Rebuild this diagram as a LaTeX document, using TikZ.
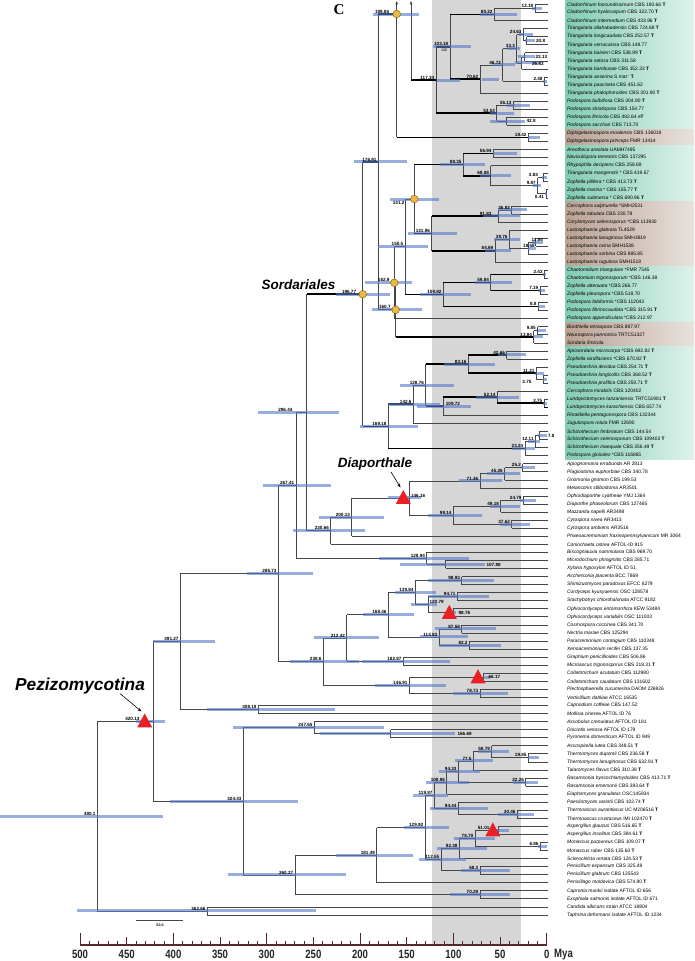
\documentclass[tikz,border=0pt]{standalone}
\usepackage{fontspec}
\setmainfont{Liberation Sans}
\newfontfamily\serifbf{Liberation Serif}
\usetikzlibrary{calc,arrows.meta}
\pgfdeclarelayer{bg}
\pgfdeclarelayer{bars}
\pgfdeclarelayer{mark}
\pgfdeclarelayer{lab}
\pgfsetlayers{bg,main,bars,mark,lab}
\definecolor{thinc}{RGB}{70,70,70}
\definecolor{hpdc}{RGB}{85,125,200}
\definecolor{bandc}{RGB}{214,214,214}
\definecolor{grnL}{RGB}{130,204,178}
\definecolor{grnR}{RGB}{222,242,235}
\definecolor{brnL}{RGB}{186,162,148}
\definecolor{brnR}{RGB}{232,225,221}
\definecolor{circf}{RGB}{236,186,62}
\definecolor{circd}{RGB}{140,100,30}
\definecolor{tric}{RGB}{235,32,36}
\definecolor{axc}{RGB}{90,40,40}
\tikzset{
 thn/.style={draw=thinc,line width=0.7pt},
 thk/.style={draw=black,line width=1.7pt},
 vln/.style={draw=thinc,line width=0.7pt},
 hpd/.style={draw=hpdc,line width=3pt,draw opacity=0.62},
 nl/.style={font=\fontsize{4.6}{5}\selectfont\bfseries,inner sep=0.4pt},
 tl/.style={font=\fontsize{4.9}{6}\selectfont,inner sep=0pt,anchor=west},
 circ/.style={fill=circf,draw=circd,line width=0.5pt},
 axl/.style={font=\fontsize{12}{14}\selectfont\bfseries,inner sep=0pt,text=black!85},
 grp/.style={font=\bfseries\itshape,inner sep=0pt},
 arr/.style={draw=black,line width=0.6pt,-{Stealth[length=4pt,width=3pt]}}
}
\newcommand\MKN[4]{\path let \p1=(#3),\p2=(#4) in ({#2pt},{0.5*(\y1+\y2)}) coordinate (#1);}
\newcommand\EDG[3][thn]{\draw[vln] (#2) -- (#2|-#3);\draw[#1] (#2|-#3) -- (#3);}
\newcommand\TN[9]{\MKN{#1}{#2}{#3}{#4}\EDG[#5]{#1}{#3}\EDG[#6]{#1}{#4}%
 \begin{pgfonlayer}{bars}\draw[hpd] let \p1=(#1) in (#7pt,\y1) -- (#8pt,\y1);\end{pgfonlayer}%
 \begin{pgfonlayer}{lab}\node[nl,anchor=south east] at ([xshift=-1.2pt,yshift=0.2pt]#1) {#9};\end{pgfonlayer}}
\newcommand\SLB[3]{\begin{pgfonlayer}{lab}\node[nl,#1] at (#2) {#3};\end{pgfonlayer}}
\newcommand\TX[3]{\node[tl] (L#1) at (567,{8.057*#1-3.557}) {\textit{#2} #3};}
\newcommand\BT{\textbf{T}}
\newcommand\BX[4]{\shade[left color=#3,right color=#4] (565,{8.057*#1-7.587}) rectangle (694,{8.057*#2+0.473});}
\newcommand\TRI[2]{\fill[tric] ($(#1)+(#2-7.5,6)$) -- ($(#1)+(#2+7.5,6)$) -- ($(#1)+(#2,-8)$) -- cycle;}
\begin{document}
\begin{tikzpicture}[x=1pt,y=-1pt]
\useasboundingbox (0,0) rectangle (694,961);
\begin{pgfonlayer}{bg}
\fill[white] (0,0) rectangle (694,961);
\fill[bandc] (431.7,0) rectangle (520.7,945);
\BX{1}{16}{grnL}{grnR}
\BX{17}{18}{brnL}{brnR}
\BX{19}{25}{grnL}{grnR}
\BX{26}{33}{brnL}{brnR}
\BX{34}{40}{grnL}{grnR}
\BX{41}{43}{brnL}{brnR}
\BX{44}{57}{grnL}{grnR}
\end{pgfonlayer}
\foreach \i in {1,...,114}{\coordinate (t\i) at (548,{8.057*\i-3.557});}
% ---------- upper Sordariales
\TN{n1218}{535}{t1}{t2}{thn}{thn}{532}{542}{12.18}
\TN{n8022}{494.3}{n1218}{t3}{thn}{thn}{480}{517}{80.22}
\TN{n208}{526.7}{t5}{t6}{thn}{thn}{525}{535}{}
\TN{n2463}{523.3}{t4}{n208}{thn}{thn}{519}{533}{24.63}
\TN{n2313}{524.5}{t7}{t8}{thn}{thn}{518}{535}{}
\TN{n2683}{521.5}{n2313}{t9}{thn}{thn}{515}{540}{}
\TN{n333}{516.7}{n2463}{n2683}{thn}{thn}{507}{520}{33.3}
\TN{n248}{544.3}{t10}{t11}{thn}{thn}{543}{547}{2.48}
\TN{n4672}{502.7}{n333}{n248}{thn}{thn}{492}{515}{46.72}
\TN{n7062}{480}{n4672}{t12}{thn}{thn}{482}{499}{70.62}
\TN{n10318}{450}{n8022}{n7062}{thk}{thk}{433}{471}{103.18}
\TN{n3613}{513.3}{t13}{t14}{thn}{thn}{507}{530}{36.13}
\TN{n428}{506.7}{t15}{t16}{thn}{thn}{490}{525}{}
\TN{n5353}{496.7}{n3613}{n428}{thn}{thn}{490}{514}{53.53}
\TN{n11734}{436}{n10318}{n5353}{thk}{thk}{437}{460}{117.34}
\TN{n1842}{528.3}{t17}{t18}{thn}{thn}{528}{540}{18.42}
\coordinate (ncA) at (396.7,14);
\coordinate (arrA) at (396.7,0.8);
\coordinate (arrB) at (411,0.8);
\coordinate (nB) at (arrB|-n11734);
\EDG[thk]{ncA}{n1842}
\draw[vln,-{Latex[length=3.5pt,width=3pt]}] (ncA) -- (arrA);
\draw[vln,-{Latex[length=3.5pt,width=3pt]}] (nB) -- (arrB);
\draw[thk] (nB) -- (n11734);
\begin{pgfonlayer}{bars}\draw[hpd] (372.7,14) -- (419.3,14);\end{pgfonlayer}
\SLB{anchor=south east}{[xshift=-7pt,yshift=0.2pt]ncA}{199.86}
\SLB{anchor=west}{[xshift=8.8pt]n208}{20.8}
\SLB{anchor=west}{[xshift=10.5pt]n2313}{23.13}
\SLB{anchor=west}{[xshift=10pt,yshift=-1.1pt]n2683}{26.83}
\SLB{anchor=west}{[xshift=19.3pt]n428}{42.8}
\begin{pgfonlayer}{lab}\node[font=\fontsize{3.6}{4}\selectfont,inner sep=0pt] at ([xshift=-6pt,yshift=-3.2pt]n10318) {100};\end{pgfonlayer}
% ---------- middle Sordariales
\TN{n5694}{493.3}{t19}{t20}{thn}{thn}{493}{517}{56.94}
\TN{n383}{543.1}{t22}{t23}{thn}{thn}{542}{547}{}
\TN{n041}{546.3}{t24}{t25}{thn}{thn}{545}{547}{}
\TN{n987}{537.5}{n383}{n041}{thn}{thn}{533}{541}{9.87}
\TN{n6908}{490.7}{t21}{n987}{thn}{thn}{480}{511}{69.08}
\TN{n8835}{463.3}{n5694}{n6908}{thk}{thk}{440}{485}{88.35}
\TN{n3682}{511.7}{t26}{t27}{thn}{thn}{498}{527}{36.82}
\TN{n9183}{498.3}{n3682}{t28}{thn}{thn}{483}{520}{}
\TN{n1184}{535.7}{t30}{t31}{thn}{thn}{532}{543}{}
\TN{n1958}{528.4}{n1184}{t32}{thn}{thn}{528}{536}{}
\TN{n3976}{509.3}{t29}{n1958}{thn}{thn}{494}{520}{39.76}
\TN{n8469}{495}{n3976}{t33}{thn}{thn}{485}{511}{84.69}
\TN{n13196}{431.7}{n9183}{n8469}{thk}{thk}{408}{457}{131.96}
\TN{n1412}{414.3}{n8835}{n13196}{thk}{thk}{390}{439}{}
\TN{n242}{544.4}{t34}{t35}{thn}{thn}{543}{546}{2.42}
\TN{n719}{540}{t36}{t37}{thn}{thn}{538}{545}{7.19}
\TN{n5984}{490.7}{n242}{n719}{thk}{thk}{475}{512}{59.84}
\TN{n88}{538.3}{t38}{t39}{thn}{thn}{538}{545}{8.8}
\TN{n10982}{443.3}{n5984}{n88}{thk}{thk}{420}{471}{109.82}
\TN{n1505}{405}{n1412}{n10982}{thn}{thk}{378}{428}{150.5}
\TN{n1629}{394.3}{n1505}{t40}{thn}{thn}{365}{412}{}
\TN{n985}{537.5}{t41}{t42}{thn}{thn}{538}{546}{9.85}
\TN{n1384}{533.8}{n985}{t43}{thn}{thn}{533}{543}{13.84}
\TN{n1607}{395.7}{n1629}{n1384}{thn}{thk}{372}{422}{}
\TN{n17691}{378.3}{ncA}{n1607}{thk}{thn}{354}{407}{176.91}
\SLB{anchor=south east}{[xshift=-4.6pt,yshift=0.2pt]n383}{3.83}
\SLB{anchor=north east}{[xshift=-1.8pt,yshift=-0.5pt]n041}{0.41}
\SLB{anchor=south east}{[xshift=-6.3pt,yshift=0.2pt]n9183}{91.83}
\SLB{anchor=south east}{[xshift=7.8pt,yshift=0.5pt]n1184}{11.84}
\SLB{anchor=south east}{[xshift=6.9pt,yshift=0.2pt]n1958}{19.58}
\SLB{anchor=north east}{[xshift=-9.3pt,yshift=-1.5pt]n1412}{141.2}
\SLB{anchor=south east}{[xshift=-4.2pt,yshift=0.2pt]n1629}{162.9}
\SLB{anchor=south east}{[xshift=-4.5pt,yshift=0.2pt]n1607}{160.7}
% ---------- lower Sordariales
\TN{n4266}{506.7}{t44}{t45}{thn}{thn}{498}{526}{42.66}
\TN{n375}{543.2}{t47}{t48}{thn}{thn}{543}{547}{}
\TN{n1121}{536.2}{t46}{n375}{thn}{thn}{535}{544}{11.21}
\TN{n8316}{468.3}{n4266}{n1121}{thk}{thk}{444}{495}{83.16}
\TN{n275}{544.1}{t50}{t51}{thn}{thk}{543}{547}{2.75}
\TN{n5214}{497.3}{t49}{n275}{thn}{thk}{476}{519}{52.14}
\TN{n10972}{443.3}{n5214}{t52}{thk}{thn}{417}{471}{}
\TN{n12876}{425.7}{n8316}{n10972}{thk}{thk}{400}{454}{128.76}
\TN{n1426}{413.3}{n12876}{t53}{thn}{thn}{388}{440}{142.6}
\TN{n78}{539.4}{t54}{t55}{thn}{thn}{538}{547}{}
\TN{n1211}{535.4}{n78}{t56}{thn}{thn}{528}{540}{12.11}
\TN{n2324}{525}{n1211}{t57}{thn}{thn}{512}{535}{23.24}
\TN{n16918}{388.3}{n1426}{n2324}{thk}{thk}{360}{418}{169.18}
\TN{n19677}{362.7}{n17691}{n16918}{thk}{thk}{336}{390}{}
\SLB{anchor=north east}{[xshift=-11.2pt,yshift=-0.3pt]n375}{3.75}
\SLB{anchor=south west}{[xshift=2pt,yshift=0.2pt]n10972}{109.72}
\SLB{anchor=west}{[xshift=8.1pt]n78}{7.8}
\SLB{anchor=south east}{[xshift=-6pt,yshift=0.2pt]n19677}{196.77}
% ---------- Diaporthales and others
\TN{n252}{522.7}{t58}{t59}{thn}{thn}{521}{535}{25.2}
\TN{n4526}{504.5}{n252}{t60}{thn}{thn}{487}{520}{45.26}
\TN{n7146}{480}{n4526}{t61}{thn}{thn}{459}{502}{71.46}
\TN{n2479}{523.3}{t62}{t63}{thn}{thn}{520}{536}{24.79}
\TN{n4918}{500.7}{n2479}{t64}{thn}{thn}{490}{520}{49.18}
\TN{n3762}{511.7}{t65}{t66}{thn}{thn}{500}{530}{37.62}
\TN{n9914}{453.3}{n4918}{n3762}{thn}{thn}{428}{482}{99.14}
\TN{n14616}{409.3}{n7146}{n9914}{thn}{thn}{388}{421}{}
\TN{n20013}{351.7}{n14616}{t67}{thn}{thn}{319}{384}{200.13}
\TN{n23066}{330.7}{n20013}{t68}{thn}{thn}{293}{365}{230.66}
\TN{n29644}{306.7}{n19677}{n23066}{thk}{thn}{258}{339}{}
\TN{n10788}{445.7}{t70}{t71}{thn}{thn}{400}{485}{}
\TN{n12894}{426.7}{t69}{n10788}{thn}{thn}{379}{469}{128.94}
\TN{n26741}{296}{n29644}{n12894}{thn}{thn}{263}{331}{267.41}
\TN{n9893}{461.7}{t72}{t73}{thn}{thn}{428}{494}{98.93}
\TN{n9471}{457.3}{t74}{t75}{thn}{thn}{428}{489}{94.71}
\TN{n9876}{453.3}{t76}{t77}{thn}{thn}{452}{456}{}
\TN{n12079}{428.3}{n9471}{n9876}{thn}{thn}{411}{437}{}
\TN{n13984}{415.3}{n9893}{n12079}{thn}{thn}{395}{436}{139.84}
\TN{n8758}{461.7}{t78}{t79}{thn}{thn}{435}{496}{87.58}
\TN{n822}{469.3}{t80}{t81}{thn}{thn}{439}{501}{82.2}
\TN{n11483}{439}{n8758}{n822}{thn}{thn}{420}{468}{114.83}
\TN{n16846}{388.3}{n13984}{n11483}{thn}{thn}{363}{414}{168.46}
\TN{n18287}{403.3}{t82}{t83}{thn}{thn}{362}{450}{182.87}
\TN{n21242}{346.7}{n16846}{n18287}{thn}{thn}{314}{379}{212.42}
\TN{n6617}{483.3}{t84}{t85}{thn}{thn}{483}{490}{}
\TN{n7873}{480}{t86}{t87}{thn}{thn}{453}{508}{78.73}
\TN{n14691}{409.3}{n6617}{n7873}{thn}{thn}{375}{446}{146.91}
\TN{n2386}{323.3}{n21242}{n14691}{thn}{thn}{290}{359}{238.6}
\TN{n28673}{278.3}{n26741}{n2386}{thn}{thn}{247}{313}{286.73}
\TN{n30819}{258.3}{t88}{t89}{thn}{thn}{207}{335}{308.19}
\TN{n39127}{180.3}{n28673}{n30819}{thn}{thn}{153}{215}{391.27}
\TN{n16669}{390.7}{t91}{t92}{thn}{thn}{320}{455}{}
\TN{n24765}{314.3}{t90}{n16669}{thn}{thn}{233}{384}{247.65}
\TN{n1985}{528.3}{t94}{t95}{thn}{thn}{528}{539}{19.85}
\TN{n5879}{491.7}{t93}{n1985}{thn}{thn}{478}{509}{58.79}
\TN{n775}{473.3}{n5879}{t96}{thn}{thn}{455}{493}{77.5}
\TN{n2226}{525.7}{t97}{t98}{thn}{thn}{513}{538}{22.26}
\TN{n9433}{458.3}{n775}{n2226}{thn}{thn}{439}{480}{94.33}
\TN{n10896}{446.7}{n9433}{t99}{thn}{thn}{426}{469}{108.96}
\TN{n3046}{517.3}{t101}{t102}{thn}{thn}{498}{534}{30.46}
\TN{n9444}{458.3}{t100}{n3046}{thn}{thn}{430}{488}{94.44}
\TN{n11987}{434.3}{n10896}{n9444}{thn}{thn}{413}{448}{119.87}
\TN{n5101}{498.3}{t103}{t104}{thn}{thn}{490}{509}{}
\TN{n686}{540.3}{t105}{t106}{thn}{thn}{538}{547}{6.86}
\TN{n7879}{475}{n5101}{n686}{thn}{thn}{454}{495}{78.79}
\TN{n9238}{459.3}{n7879}{t107}{thn}{thn}{437}{487}{92.38}
\TN{n683}{480}{t108}{t109}{thn}{thn}{461}{510}{68.3}
\TN{n11255}{441}{n9238}{n683}{thn}{thn}{419}{466}{112.55}
\TN{n12992}{425}{n11987}{n11255}{thn}{thn}{404}{449}{129.92}
\TN{n18149}{376.7}{n12992}{t110}{thn}{thn}{336}{413}{181.49}
\TN{n7029}{480}{t111}{t112}{thn}{thn}{450}{510}{70.29}
\TN{n26027}{295}{n18149}{n7029}{thn}{thn}{228}{346}{260.27}
\TN{n32443}{243.3}{n24765}{n26027}{thn}{thn}{170}{298}{324.43}
\TN{n42013}{153.3}{n39127}{n32443}{thn}{thn}{136}{165}{}
\TN{n36266}{207.3}{t113}{t114}{thn}{thn}{77}{316}{362.66}
\TN{n4801}{97.3}{n42013}{n36266}{thn}{thn}{0}{163}{480.1}
\SLB{anchor=south west}{[xshift=1.2pt,yshift=0.2pt]n14616}{146.16}
\SLB{anchor=south east}{[xshift=-13.7pt,yshift=0.2pt]n29644}{296.44}
\SLB{anchor=west}{[xshift=40.3pt]n10788}{107.88}
\SLB{anchor=west}{[xshift=4.7pt]n9876}{98.76}
\SLB{anchor=south west}{[xshift=0.7pt,yshift=0.2pt]n12079}{120.79}
\SLB{anchor=west}{[xshift=4.7pt]n6617}{66.17}
\SLB{anchor=west}{[xshift=66.3pt]n16669}{166.69}
\SLB{anchor=south east}{[xshift=-8.3pt,yshift=0.2pt]n5101}{51.01}
\SLB{anchor=south east}{[xshift=-13.3pt,yshift=0.2pt]n42013}{420.13}
% ---------- markers
\begin{pgfonlayer}{mark}
\foreach \c in {ncA,n1412,n1629,n1607,n19677}{\draw[circ] (\c) circle (3.8pt);}
\TRI{n14616}{-6}
\TRI{n9876}{-4}
\TRI{n6617}{-5.3}
\TRI{n5101}{-5.5}
\TRI{n42013}{-8.6}
\end{pgfonlayer}
% ---------- group labels
\node[grp,font=\fontsize{13.5}{16}\selectfont\bfseries\itshape] (gS) at (298.5,285) {Sordariales};
\node[grp,font=\fontsize{13.5}{16}\selectfont\bfseries\itshape] (gD) at (375,464) {Diaporthale};
\node[grp,font=\fontsize{17.3}{20}\selectfont\bfseries\itshape] (gP) at (80,686) {Pezizomycotina};
\node[inner sep=0pt,font=\serifbf\bfseries\fontsize{15}{17}\selectfont] (gC) at (339,9.5) {C};
\coordinate (dA) at (391,472);
\coordinate (dB) at (400.5,487.5);
\coordinate (pA) at (120,693.5);
\coordinate (pB) at (141.5,711.5);
\draw[arr] (dA) -- (dB);
\draw[arr] (pA) -- (pB);
% ---------- scale bar
\coordinate (sb1) at (136,920.7);
\coordinate (sb2) at (182.7,920.7);
\draw[thinc,line width=0.6pt] (sb1) -- (sb2);
\node[inner sep=0pt,font=\fontsize{3.6}{4}\selectfont\bfseries] (sbl) at (160,925.3) {50.0};
% ---------- axis
\draw[axc,line width=1.1pt] (80,945) -- (546.7,945);
\foreach \t in {0,10,...,500}{\draw[axc,line width=0.8pt] ({546.7-0.9333*\t},945) -- ++(0,-4);}
\foreach \t in {50,150,...,450}{\draw[axc,line width=0.8pt] ({546.7-0.9333*\t},945) -- ++(0,-8);}
\foreach \t in {0,100,...,500}{\draw[axc,line width=0.8pt] ({546.7-0.9333*\t},945) -- ++(0,-12);}
\foreach \t in {0,50,...,500}{\node[axl] at ({546.7-0.9333*\t},954.5) {\scalebox{0.8}[1]{\t}};}
\node[axl] at (563.5,954.5) {\scalebox{0.8}[1]{Mya}};
% ---------- tip labels
\TX{1}{Cladorrhinum foecundissimum}{CBS 180.66 \BT}
\TX{2}{Cladorrhinum hyalocarpum}{CBS 322.70 \BT}
\TX{3}{Cladorrhinum intermedium}{CBS 433.96 \BT}
\TX{4}{Triangularia allahabadensis}{CBS 724.68 \BT}
\TX{5}{Triangularia longicaudata}{CBS 252.57 \BT}
\TX{6}{Triangularia verruculosa}{CBS 148.77}
\TX{7}{Triangularia bainieri}{CBS 538.89 \BT}
\TX{8}{Triangularia setosa}{CBS 311.58}
\TX{9}{Triangularia bambusae}{CBS 352.33 \BT}
\TX{10}{Triangularia anserina}{S mat\textsuperscript{–} \BT}
\TX{11}{Triangularia pauciseta}{CBS 451.62}
\TX{12}{Triangularia phalophoroides}{CBS 301.90 \BT}
\TX{13}{Podospora bulbillosa}{CBS 304.90 \BT}
\TX{14}{Podospora striatispora}{CBS 154.77}
\TX{15}{Podospora fimicola}{CBS 482.64 e\BT}
\TX{16}{Podospora sacchari}{CBS 713.70}
\TX{17}{Diplogelasinospora moalensis}{CBS 136018}
\TX{18}{Diplogelasinospora princeps}{FMR 13414}
\TX{19}{Areotheca areolata}{UAMH7495}
\TX{20}{Naviculispora terrestris}{CBS 137295}
\TX{21}{Rhypophila decipiens}{CBS 258.69}
\TX{22}{Triangularia mangenotii}{* CBS 419.67}
\TX{23}{Zopfiella pilifera}{* CBS 413.73 \BT}
\TX{24}{Zopfiella marina}{* CBS 155.77 \BT}
\TX{25}{Zopfiella submersa}{* CBS 690.96 \BT}
\TX{26}{Cercophora sulphurella}{*SMH2531}
\TX{27}{Zopfiella tabulata}{CBS 230.78}
\TX{28}{Corylomyces selenosporus}{*CBS 113930}
\TX{29}{Lasiosphaeria glabrata}{TL4529}
\TX{30}{Lasiosphaeria lanuginosa}{SMH3819}
\TX{31}{Lasiosphaeria ovina}{SMH1538}
\TX{32}{Lasiosphaeria sorbina}{CBS 885.85}
\TX{33}{Lasiosphaeria rugulosa}{SMH1518}
\TX{34}{Chaetomidium triangulare}{*FMR 7545}
\TX{35}{Chaetomium trigonosporum}{*CBS 146.38}
\TX{36}{Zopfiella attenuata}{*CBS 266.77}
\TX{37}{Zopfiella pleuropora}{*CBS 518.70}
\TX{38}{Podospora fabiformis}{*CBS 112043}
\TX{39}{Podospora fibrinocaudata}{*CBS 315.91 \BT}
\TX{40}{Podospora appendiculata}{*CBS 212.97}
\TX{41}{Boothiella tetraspora}{CBS 887.97}
\TX{42}{Neurospora pannonica}{TRTC51327}
\TX{43}{Sordaria fimicola}{}
\TX{44}{Apiosordaria microcarpa}{*CBS 692.82 \BT}
\TX{45}{Zopfiella tardifaciens}{*CBS 670.82 \BT}
\TX{46}{Pseudoechria decidua}{CBS 254.71 \BT}
\TX{47}{Pseudoechria longicollis}{CBS 368.52 \BT}
\TX{48}{Pseudoechria prolifica}{CBS 250.71 \BT}
\TX{49}{Cercophora mirabilis}{CBS 120402}
\TX{50}{Lundqvistomyces tanzaniensis}{TRTC51981 \BT}
\TX{51}{Lundqvistomyces karachiensis}{CBS 657.74}
\TX{52}{Rinaldiella pentagonospora}{CBS 132344}
\TX{53}{Jugulospora rotula}{FMR 12690}
\TX{54}{Schizothecium fimbriatum}{CBS 144.54}
\TX{55}{Schizothecium selenosporum}{CBS 109403 \BT}
\TX{56}{Schizothecium inaequale}{CBS 356.49 \BT}
\TX{57}{Podospora gloiodes}{*CBS 116865}
\TX{58}{Apiognomonia errabunda}{AR 2813}
\TX{59}{Plagiostoma euphorbiae}{CBS 340.78}
\TX{60}{Gnomonia gnomon}{CBS 199.53}
\TX{61}{Melanconis stilbostoma}{AR3501}
\TX{62}{Ophiodiaporthe cyatheae}{YMJ 1364}
\TX{63}{Diaporthe phaseolorum}{CBS 127465}
\TX{64}{Mazzantia napelli}{AR3498}
\TX{65}{Cytospora nivea}{AR3413}
\TX{66}{Cytospora ambiens}{AR3516}
\TX{67}{Phaeoacremonium fraxinopennsylvanicum}{MR 3064}
\TX{68}{Coniochaeta ostrea}{AFTOL-ID 915}
\TX{69}{Biscogniauxia nummularia}{CBS 969.70}
\TX{70}{Microdochium phragmitis}{CBS 285.71}
\TX{71}{Xylaria hypoxylon}{AFTOL ID 51}
\TX{72}{Aschersonia placenta}{BCC 7869}
\TX{73}{Shimizuomyces paradoxus}{EFCC 6279}
\TX{74}{Cordyceps kyusyuensis}{OSC 128578}
\TX{75}{Stachybotrys chlorohalonata}{ATCC 9182}
\TX{76}{Ophiocordyceps entomorrhiza}{KEW 53484}
\TX{77}{Ophiocordyceps variabilis}{OSC 111003}
\TX{78}{Cosmospora coccinea}{CBS 341.70}
\TX{79}{Nectria mariae}{CBS 125294}
\TX{80}{Paracremonium contagium}{CBS 110348}
\TX{81}{Xenoacremonium recifei}{CBS 137.35}
\TX{82}{Graphium penicillioides}{CBS 506.86}
\TX{83}{Microascus trigonosporus}{CBS 218.31 \BT}
\TX{84}{Colletotrichum acutatum}{CBS 112980}
\TX{85}{Colletotrichum caudatum}{CBS 131602}
\TX{86}{Plectosphaerella cucumerina}{DAOM 226926}
\TX{87}{Verticillium dahliae}{ATCC 16535}
\TX{88}{Capnodium coffeae}{CBS 147.52}
\TX{89}{Mollisia cinerea}{AFTOL ID 76}
\TX{90}{Ascobolus crenulatus}{AFTOL ID 181}
\TX{91}{Disciotis venosa}{AFTOL ID 179}
\TX{92}{Pyronema domesticum}{AFTOL ID 949}
\TX{93}{Ascospirella lutea}{CBS 348.51 \BT}
\TX{94}{Thermomyces dupontii}{CBS 236.58 \BT}
\TX{95}{Thermomyces lanuginosus}{CBS 632.91 \BT}
\TX{96}{Talaromyces flavus}{CBS 310.38 \BT}
\TX{97}{Rasamsonia byssochlamydoides}{CBS 413.71 \BT}
\TX{98}{Rasamsonia emersonii}{CBS 393.64 \BT}
\TX{99}{Elaphomyces granulatus}{OSC145934}
\TX{100}{Paecilomyces variotii}{CBS 102.74 \BT}
\TX{101}{Thermoascus aurantiacus}{UC M206516 \BT}
\TX{102}{Thermoascus crustaceus}{IMI 102470 \BT}
\TX{103}{Aspergillus glaucus}{CBS 516.65 \BT}
\TX{104}{Aspergillus insolitus}{CBS 384.61 \BT}
\TX{105}{Monascus purpureus}{CBS 109.07 \BT}
\TX{106}{Monascus ruber}{CBS 135.60 \BT}
\TX{107}{Sclerocleista ornata}{CBS 124.53 \BT}
\TX{108}{Penicillium expansum}{CBS 325.48}
\TX{109}{Penicillium glabrum}{CBS 125543}
\TX{110}{Penicillago moldavica}{CBS 574.90 \BT}
\TX{111}{Capronia munkii}{isolate AFTOL ID 656}
\TX{112}{Exophiala salmonis}{isolate AFTOL ID 671}
\TX{113}{Candida albicans}{strain ATCC 18804}
\TX{114}{Taphrina deformans}{isolate AFTOL ID 1234}
\end{tikzpicture}
\end{document}
